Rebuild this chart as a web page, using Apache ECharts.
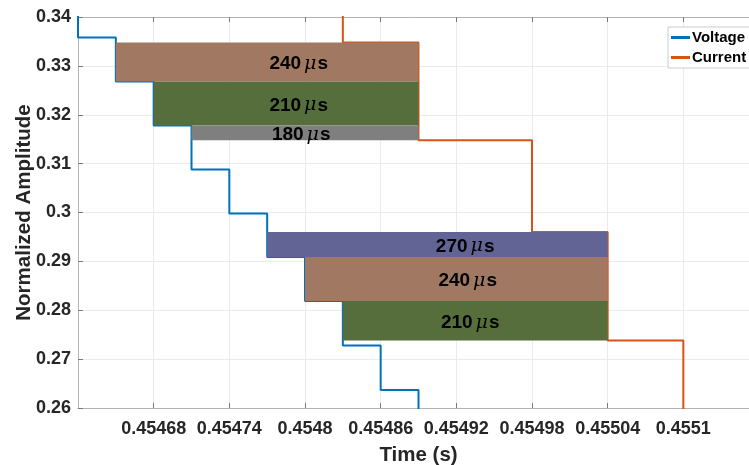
<!DOCTYPE html>
<html>
<head>
<meta charset="utf-8">
<script src="https://cdn.jsdelivr.net/npm/echarts@6/dist/echarts.min.js"></script>
<style>
  html, body { margin: 0; padding: 0; background: #fff; }
  #chart { width: 749px; height: 465px; }
</style>
</head>
<body>
<div id="chart"></div>
<script>
// Sampled voltage waveform (time in s, normalized amplitude), held between samples
const voltageTime = [0.45459, 0.45462, 0.45465, 0.45468, 0.45471, 0.45474, 0.45477, 0.45480, 0.45483, 0.45486, 0.45489, 0.45492];
const voltageValue = [0.3449, 0.3358, 0.3268, 0.3178, 0.3088, 0.2998, 0.2909, 0.2819, 0.2728, 0.2637, 0.2546, 0.2546];

// Sampled current waveform
const currentTime = [0.45477, 0.45483, 0.45489, 0.45498, 0.45504, 0.45510, 0.45516];
const currentValue = [0.3560, 0.3348, 0.3148, 0.2960, 0.2738, 0.2527, 0.2527];

// Delay bands: start time, end time, lower level, upper level, label digits, label centre time
const bandStart = [0.45465, 0.45468, 0.45471, 0.45477, 0.45480, 0.45483];
const bandEnd = [0.45489, 0.45489, 0.45489, 0.45504, 0.45504, 0.45504];
const bandLow = [0.3268, 0.3178, 0.3148, 0.2909, 0.2819, 0.2738];
const bandHigh = [0.3348, 0.3268, 0.3178, 0.2960, 0.2909, 0.2819];
const bandDelay = ['240', '210', '180', '270', '240', '210'];
const bandLabelTime = [0.454795, 0.454795, 0.454797, 0.454927, 0.454929, 0.454931];
const bandColor = ['#a17862', '#566e3c', '#7f7f7f', '#636496', '#a17862', '#566e3c'];

// Axis ticks
const xMin = 0.45462, xMax = 0.45516, xStep = 0.00006;
const yMin = 0.26, yMax = 0.34, yStep = 0.01;

const FONT = '"Liberation Sans", Arial, Helvetica, sans-serif';
const TXT = '#262626';

const zip = (a, b) => a.map((v, i) => [v, b[i]]);
const bands = bandStart.map((s, i) => [s, bandEnd[i], bandLow[i], bandHigh[i], i]);

const chart = echarts.init(document.getElementById('chart'), null, { renderer: 'canvas' });

const xAxisBase = {
  type: 'value', min: xMin, max: xMax, interval: xStep,
  axisLine: { show: true, lineStyle: { color: '#b3b3b3', width: 1 } },
  axisTick: { show: true, inside: true, length: 5, lineStyle: { color: '#7a7a7a' } },
  splitLine: { show: true, lineStyle: { color: '#ebebeb', width: 1 } }
};

chart.setOption({
  animation: false,
  backgroundColor: '#ffffff',
  // the plot box runs past the right edge of the canvas
  grid: { left: 78, top: 17, width: 681, height: 391, containLabel: false, outerBoundsMode: 'none' },
  legend: {
    left: 668, top: 27,
    orient: 'vertical',
    icon: 'rect', itemWidth: 19, itemHeight: 3, itemGap: 5,
    padding: [3, 8, 3, 3],
    backgroundColor: '#ffffff',
    borderColor: '#cccccc', borderWidth: 1,
    textStyle: { fontFamily: FONT, fontWeight: 'bold', fontSize: 15, color: '#000', padding: [0, 0, 0, -3] },
    data: ['Voltage', 'Current']
  },
  xAxis: [
    Object.assign({}, xAxisBase, {
      position: 'bottom',
      name: 'Time (s)', nameLocation: 'middle', nameGap: 37,
      nameTextStyle: { fontFamily: FONT, fontWeight: 'bold', fontSize: 20.5, color: TXT },
      axisLabel: {
        showMinLabel: false, showMaxLabel: false, margin: 12,
        fontFamily: FONT, fontWeight: 'bold', fontSize: 18, color: TXT,
        formatter: v => String(parseFloat(v.toFixed(5)))
      }
    }),
    Object.assign({}, xAxisBase, {
      position: 'top',
      axisLabel: { show: false },
      splitLine: { show: false }
    })
  ],
  yAxis: {
    type: 'value', min: yMin, max: yMax, interval: yStep,
    name: 'Normalized Amplitude', nameLocation: 'middle', nameGap: 43, nameMoveOverlap: false,
    nameTextStyle: { fontFamily: FONT, fontWeight: 'bold', fontSize: 20.5, color: TXT },
    axisLine: { show: true, lineStyle: { color: '#b3b3b3', width: 1 } },
    axisTick: { show: true, inside: true, length: 5, lineStyle: { color: '#7a7a7a' } },
    splitLine: { show: true, lineStyle: { color: '#ebebeb', width: 1 } },
    axisLabel: {
      margin: 7, fontFamily: FONT, fontWeight: 'bold', fontSize: 18, color: TXT,
      formatter: v => String(parseFloat(v.toFixed(2)))
    }
  },
  series: [
    {
      name: 'Voltage', type: 'line', step: 'end', symbol: 'none', clip: true,
      data: zip(voltageTime, voltageValue),
      lineStyle: { color: '#0072bd', width: 2 }, itemStyle: { color: '#0072bd' }, z: 2
    },
    {
      name: 'Current', type: 'line', step: 'end', symbol: 'none', clip: true,
      data: zip(currentTime, currentValue),
      lineStyle: { color: '#d95319', width: 2 }, itemStyle: { color: '#d95319' }, z: 2
    },
    {
      type: 'custom', clip: true, z: 3,
      data: bands,
      renderItem: function (params, api) {
        const i = api.value(4);
        const p0 = api.coord([api.value(0), api.value(3)]);
        const p1 = api.coord([api.value(1), api.value(2)]);
        const mid = api.coord([bandLabelTime[i], (api.value(2) + api.value(3)) / 2]);
        return {
          type: 'group',
          children: [
            {
              type: 'rect',
              shape: { x: p0[0], y: p0[1], width: p1[0] - p0[0], height: p1[1] - p0[1] },
              style: { fill: bandColor[i] }
            },
            {
              type: 'text',
              x: mid[0], y: mid[1] + 2,
              style: {
                text: '{n|' + bandDelay[i] + '}{m|\u03bc}{n|s}',
                align: 'center', verticalAlign: 'middle',
                rich: {
                  n: { fontFamily: FONT, fontWeight: 'bold', fontSize: 19, fill: '#000' },
                  m: { fontFamily: '"DejaVu Serif", serif', fontStyle: 'italic', fontSize: 19, fill: '#000', padding: [0, 1, 0, 3] }
                }
              }
            }
          ]
        };
      }
    }
  ]
});
</script>
</body>
</html>
